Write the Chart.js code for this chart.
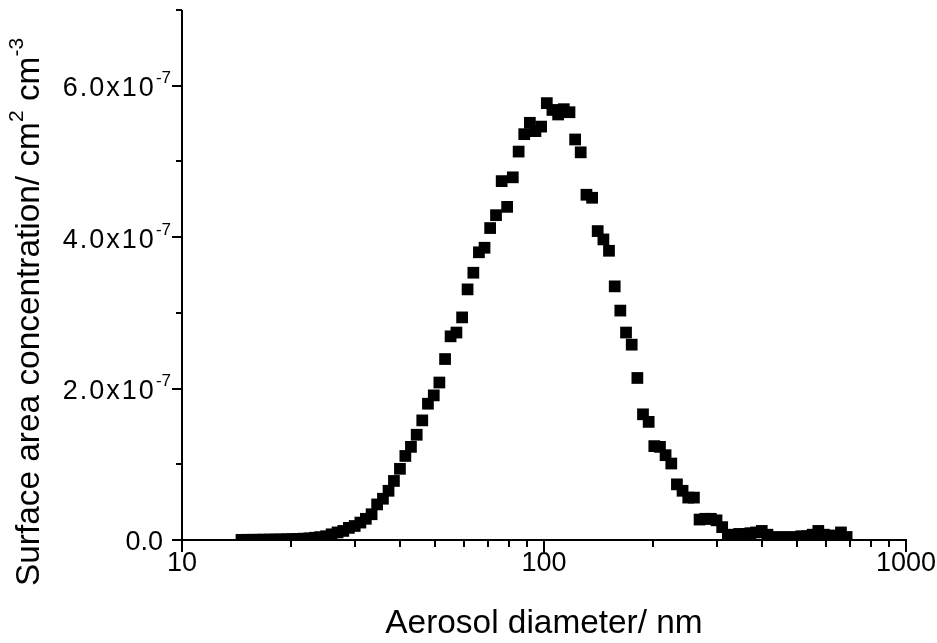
<!DOCTYPE html>
<html><head><meta charset="utf-8">
<script src="https://cdn.jsdelivr.net/npm/chart.js@4/dist/chart.umd.min.js"></script>
<style>html,body{margin:0;padding:0;background:#fff;overflow:hidden}#wrap{width:937px;height:643px}</style>
</head><body><div id="wrap"><canvas id="c" width="937" height="643"></canvas></div>
<script>
// Aerosol mobility diameter (nm)
const diameterNm = [14.6,15.1,15.7,16.3,16.8,17.5,18.1,18.8,19.5,20.2,
  20.9,21.7,22.5,23.3,24.1,25.0,25.9,26.9,27.9,28.9,
  30.0,31.1,32.2,33.4,34.6,35.9,37.2,38.5,40.0,41.4,
  42.9,44.5,46.1,47.8,49.6,51.4,53.3,55.2,57.3,59.4,
  61.5,63.8,66.1,68.5,71.0,73.7,76.4,79.1,82.0,85.1,
  88.2,91.4,94.7,98.2,101.8,105.5,109.4,113.4,117.6,121.9,
  126.3,131.0,135.8,140.7,145.9,151.2,156.8,162.5,168.5,174.7,
  181.1,187.7,194.6,201.7,209.1,216.7,224.7,232.9,241.4,250.3,
  259.5,269.0,278.8,289.0,299.6,310.6,322.0,333.8,346.0,358.7,
  371.8,385.4,399.5,414.2,429.4,445.1,461.4,478.3,495.8,514.0,
  532.8,552.3,572.5,593.5,615.3,637.8,661.2,685.4];
// Surface area concentration, in units of 1e-7 cm2 cm-3
const surfaceAreaE7 = [0.002,0.003,0.003,0.004,0.005,0.006,0.007,0.008,0.010,0.012,
  0.015,0.018,0.022,0.030,0.038,0.050,0.075,0.10,0.12,0.16,
  0.185,0.23,0.28,0.34,0.47,0.545,0.65,0.78,0.94,1.11,
  1.23,1.39,1.58,1.80,1.91,2.08,2.39,2.69,2.74,2.94,
  3.31,3.53,3.80,3.86,4.12,4.29,4.74,4.40,4.79,5.13,
  5.36,5.51,5.40,5.46,5.77,5.68,5.62,5.69,5.65,5.29,
  5.12,4.56,4.52,4.08,3.97,3.82,3.35,3.03,2.74,2.58,
  2.14,1.66,1.56,1.24,1.23,1.12,1.01,0.735,0.65,0.56,
  0.56,0.27,0.28,0.28,0.26,0.17,0.05,0.07,0.08,0.08,
  0.09,0.10,0.12,0.07,0.04,0.03,0.04,0.03,0.04,0.05,
  0.05,0.07,0.12,0.07,0.05,0.06,0.10,0.04];

const xMajorTicks = [10, 100, 1000];
const xTickLabels = ['10', '100', '1000'];
const xMinorTicks = [20,30,40,50,60,70,80,90,200,300,400,500,600,700,800,900];
const yMajorTicks = [0, 2, 4, 6];
const yTickMantissa = ['0.0', '2.0x10', '4.0x10', '6.0x10'];
const yTickExponent = ['', '-7', '-7', '-7'];
const yMinorTicks = [1, 3, 5, 7];
const xTitle = 'Aerosol diameter/ nm';
const yTitleParts = [['Surface area concentration/ cm', false], ['2', true], [' cm', false], ['-3', true]];

const FONT = '"Liberation Sans", Arial, Helvetica, sans-serif';
const TICK_PX = 27, TITLE_PX = 33.4;

function richWidth(ctx, parts, size, spacing) {
  let w = 0;
  parts.forEach(([t, sup]) => {
    ctx.font = (sup ? Math.round(size*0.62) : size) + 'px ' + FONT;
    ctx.letterSpacing = sup ? '0px' : (spacing || 0) + 'px';
    w += ctx.measureText(t).width;
  });
  ctx.letterSpacing = '0px';
  return w;
}
function drawRich(ctx, parts, x, y, size, spacing) { // x = left, y = middle
  parts.forEach(([t, sup]) => {
    const s = sup ? Math.round(size*0.62) : size;
    ctx.font = s + 'px ' + FONT;
    ctx.letterSpacing = sup ? '0px' : (spacing || 0) + 'px';
    ctx.fillText(t, x, sup ? y - size*0.38 : y);
    x += ctx.measureText(t).width;
  });
  ctx.letterSpacing = '0px';
}

const axesPlugin = {
  id: 'axesPlugin',
  afterDraw(chart) {
    const ctx = chart.ctx, xs = chart.scales.x, ys = chart.scales.y, ca = chart.chartArea;
    ctx.save();
    ctx.strokeStyle = '#000'; ctx.fillStyle = '#000'; ctx.lineWidth = 2;
    const yb = ca.bottom, xl = ca.left;
    const line = (a,b,c,d) => { ctx.beginPath(); ctx.moveTo(a,b); ctx.lineTo(c,d); ctx.stroke(); };
    // axis lines
    line(xl, ca.top, xl, yb + 1);
    line(xl - 1, yb, ca.right + 1, yb);
    // x ticks
    xMajorTicks.forEach(v => { const p = Math.round(xs.getPixelForValue(v)); line(p, yb, p, yb + 12); });
    xMinorTicks.forEach(v => { const p = Math.round(xs.getPixelForValue(v)); line(p, yb, p, yb + 7); });
    // y ticks
    yMajorTicks.forEach(v => { const p = Math.round(ys.getPixelForValue(v)); line(xl - 10, p, xl, p); });
    yMinorTicks.forEach(v => { const p = Math.round(ys.getPixelForValue(v)); line(xl - 6, p, xl, p); });
    // x tick labels
    ctx.textBaseline = 'middle'; ctx.textAlign = 'left';
    xMajorTicks.forEach((v, i) => {
      ctx.font = TICK_PX + 'px ' + FONT;
      const w = ctx.measureText(xTickLabels[i]).width;
      ctx.fillText(xTickLabels[i], xs.getPixelForValue(v) - w/2, yb + 24);
    });
    // y tick labels
    yMajorTicks.forEach((v, i) => {
      const parts = [[yTickMantissa[i], false]];
      const hasExp = !!yTickExponent[i];
      if (hasExp) parts.push([yTickExponent[i], true]);
      const sp = hasExp ? 2 : 0;
      const w = richWidth(ctx, parts, TICK_PX, sp);
      const gap = hasExp ? 11 : 19;
      drawRich(ctx, parts, xl - gap - w, ys.getPixelForValue(v) + 3, TICK_PX, sp);
    });
    // x title
    ctx.font = TITLE_PX + 'px ' + FONT;
    const tw = ctx.measureText(xTitle).width;
    ctx.fillText(xTitle, (xs.getPixelForValue(10) + xs.getPixelForValue(1000))/2 - tw/2, 624);
    // y title (rotated)
    ctx.translate(30, 312); ctx.rotate(-Math.PI/2);
    const yw = richWidth(ctx, yTitleParts, TITLE_PX, 0);
    drawRich(ctx, yTitleParts, -yw/2, 0, TITLE_PX, 0);
    ctx.restore();
  }
};

new Chart(document.getElementById('c'), {
  type: 'scatter',
  data: {
    datasets: [{
      data: diameterNm.map((d, i) => ({x: d, y: surfaceAreaE7[i]})),
      pointStyle: 'rect', pointRadius: 8.3, pointHoverRadius: 8.3,
      backgroundColor: '#000', borderColor: '#000', borderWidth: 0,
      showLine: false,
      clip: {left: 20, right: 20, top: 20, bottom: 0}
    }]
  },
  options: {
    responsive: false, animation: false, devicePixelRatio: 1,
    layout: {padding: {left: 0, right: 31, top: 10, bottom: 0}},
    plugins: {legend: {display: false}, tooltip: {enabled: false}},
    events: [],
    scales: {
      x: {type: 'logarithmic', min: 10, max: 1000,
          ticks: {display: false}, grid: {display: false}, border: {display: false},
          afterFit(s) { s.height = 103; }},
      y: {type: 'linear', min: 0, max: 7,
          ticks: {display: false}, grid: {display: false}, border: {display: false},
          afterFit(s) { s.width = 182; }}
    }
  },
  plugins: [axesPlugin]
});
</script></body></html>
